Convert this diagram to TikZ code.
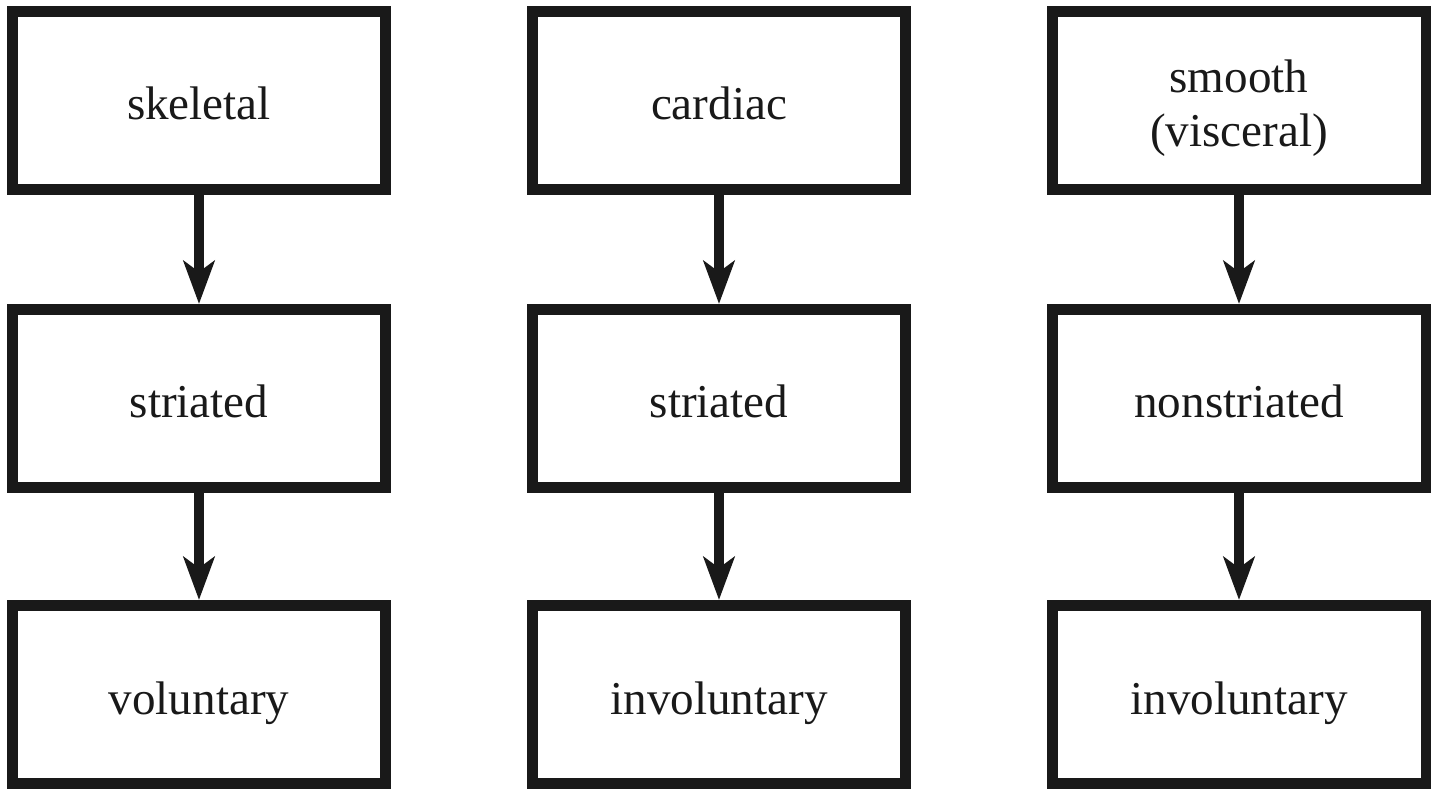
\documentclass[tikz,border=0pt]{standalone}
\usepackage{fontspec}
\setmainfont{Liberation Serif}
\usepackage{tikz}
\usetikzlibrary{arrows.meta}

\begin{document}
\begin{tikzpicture}[
    musclebox/.style={draw=black!90, line width=3pt, fill=white,
                   minimum width=3.735cm, minimum height=1.785cm,
                   text height=0.39cm, text depth=0pt,
                   align=center, font=\fontsize{13.4pt}{15.6pt}\selectfont, text=black!90},
    flow/.style={-{Stealth[length=4.3mm, width=3.1mm, inset=1.1mm]}, line width=2.9pt, draw=black!90}
]
    \useasboundingbox (0,0) rectangle (14.38,7.88);

    % Muscle types
    \node[musclebox] (skeletal) at (1.99,6.875) {skeletal};
    \node[musclebox] (cardiac) at (7.19,6.875) {cardiac};
    \node[musclebox, text height=0.93cm] (smooth) at (12.39,6.875) {smooth\\(visceral)};

    % Appearance
    \node[musclebox] (skstriated) at (1.99,3.895) {striated};
    \node[musclebox] (castriated) at (7.19,3.895) {striated};
    \node[musclebox] (smnonstriated) at (12.39,3.895) {nonstriated};

    % Control
    \node[musclebox] (skvoluntary) at (1.99,0.935) {voluntary};
    \node[musclebox] (cainvoluntary) at (7.19,0.935) {involuntary};
    \node[musclebox] (sminvoluntary) at (12.39,0.935) {involuntary};

    % Connecting arrows
    \draw[flow] (skeletal) -- (skstriated);
    \draw[flow] (cardiac) -- (castriated);
    \draw[flow] (smooth) -- (smnonstriated);
    \draw[flow] (skstriated) -- (skvoluntary);
    \draw[flow] (castriated) -- (cainvoluntary);
    \draw[flow] (smnonstriated) -- (sminvoluntary);
\end{tikzpicture}
\end{document}
